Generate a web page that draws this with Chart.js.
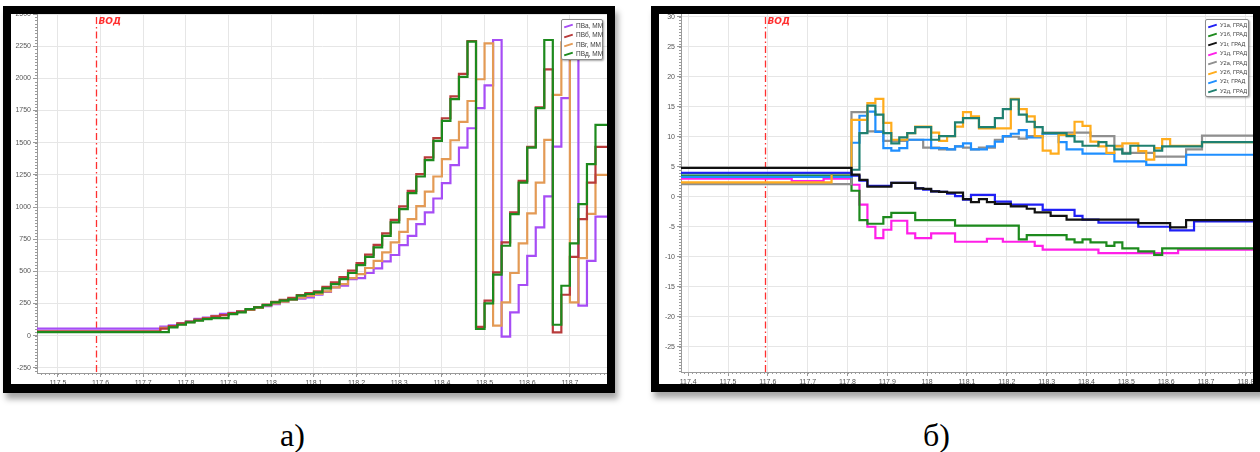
<!DOCTYPE html>
<html lang="ru">
<head>
<meta charset="utf-8">
<title>ПВ, ММ / У, ГРАД</title>
<script src="https://cdn.jsdelivr.net/npm/chart.js@4.4.1/dist/chart.umd.min.js"></script>
<style>
  html, body { margin: 0; padding: 0; background: #fff; }
  body { position: relative; width: 1260px; height: 452px; overflow: hidden; font-family: "Liberation Sans", Arial, sans-serif; }
  .frame { position: absolute; background: #000; box-shadow: 3px 6px 6px rgba(0,0,0,0.35); }
  .plot { position: absolute; background: #fff; overflow: hidden; }
  .plot canvas { position: absolute; left: 0; top: -10px; }
  .legend { position: absolute; box-sizing: border-box; background: #fff; border: 1px solid #8c8c8c; border-radius: 2px;
            box-shadow: 1px 1px 2px rgba(0,0,0,0.35); color: #3c3c3c; padding: 1px 0 0 2px; }
  .legend div { white-space: nowrap; }
  .legend i { display: inline-block; width: 9px; height: 2px; margin-right: 3px; vertical-align: middle; transform: rotate(-18deg); }
  .caption { position: absolute; top: 419px; font: 32px/32px "Liberation Serif", "Times New Roman", serif; color: #000; }
</style>
</head>
<body>
  <div class="frame" style="left:3px;top:6px;width:612px;height:387px"></div>
  <div class="plot" style="left:11px;top:14px;width:596px;height:370px"><canvas id="chartA" width="612" height="380"></canvas></div>
  <div class="legend" id="legendA" style="left:561px;top:19px;width:42px;height:41px;font-size:6.5px;line-height:9.3px"></div>

  <div class="frame" style="left:651px;top:6px;width:612px;height:386px"></div>
  <div class="plot" style="left:659px;top:14px;width:594px;height:370px"><canvas id="chartB" width="610" height="380"></canvas></div>
  <div class="legend" id="legendB" style="left:1205px;top:19px;width:44px;height:78px;font-size:5.6px;line-height:9.4px"></div>

  <div class="caption" style="left:280px">а)</div>
  <div class="caption" style="left:923px">б)</div>

<script>
// ---- а) ПВ, ММ ----
const X_A = [117.44, 117.74, 117.76, 117.78, 117.80, 117.82, 117.84, 117.86, 117.88, 117.90,
  117.92, 117.94, 117.96, 117.98, 118.00, 118.02, 118.04, 118.06, 118.08, 118.10,
  118.12, 118.14, 118.16, 118.18, 118.20, 118.22, 118.24, 118.26, 118.28, 118.30,
  118.32, 118.34, 118.36, 118.38, 118.40, 118.42, 118.44, 118.46, 118.48, 118.50,
  118.52, 118.54, 118.56, 118.58, 118.60, 118.62, 118.64, 118.66, 118.68, 118.70,
  118.72, 118.74, 118.76, 118.78, 118.80];
const PV_A = [30, 55, 70, 80, 95, 110, 130, 140, 155, 170,
  178, 188, 200, 215, 230, 245, 262, 278, 288, 298,
  318, 340, 375, 388, 440, 448, 487, 523, 577, 627,
  704, 776, 867, 958, 1066, 1186, 1325, 1462, 1612, 1768,
  1946, 2298, -8, 181, 394, 621, 841, 1082, 1470, 1846,
  2290, 233, 582, 926, 926];
const PV_B = [33, 33, 55, 75, 95, 110, 125, 135, 150, 160,
  175, 190, 205, 222, 242, 262, 278, 295, 315, 330,
  345, 380, 415, 455, 505, 565, 630, 705, 795, 900,
  1005, 1125, 1255, 1385, 1535, 1690, 1860, 2035, 2290, 68,
  272, 492, 725, 958, 1203, 1467, 1775, 2070, 26, 318,
  613, 906, 1190, 1467, 1467];
const PV_G = [30, 30, 60, 72, 90, 105, 120, 135, 150, 160,
  170, 185, 200, 215, 235, 250, 265, 280, 295, 310,
  325, 345, 375, 401, 448, 479, 526, 582, 647, 725,
  807, 906, 1007, 1120, 1237, 1372, 1519, 1661, 1824, 1993,
  2272, 78, 259, 487, 717, 950, 1190, 1522, 1871, 2280,
  259, 603, 947, 1250, 1250];
const PV_D = [28, 28, 28, 65, 85, 103, 116, 129, 137, 137,
  168, 181, 207, 220, 238, 259, 272, 282, 311, 324,
  336, 367, 401, 440, 487, 549, 613, 686, 776, 880,
  983, 1108, 1237, 1364, 1514, 1669, 1838, 2011, 2285, 52,
  251, 474, 699, 945, 1190, 1462, 1768, 2298, 85, 388,
  717, 1022, 1333, 1638, 1638];
const NAMES_A = ['ПВа, ММ', 'ПВб, ММ', 'ПВг, ММ', 'ПВд, ММ'];
const COLORS_A = ['#a64df5', '#b83b3b', '#e39a55', '#1d8a1d'];
const ORDER_A = [3, 1, 2, 0];
const X_TICKS_A = [117.5, 117.6, 117.7, 117.8, 117.9, 118.0, 118.1, 118.2, 118.3, 118.4, 118.5, 118.6, 118.7];
const Y_TICKS_A = [-250, 0, 250, 500, 750, 1000, 1250, 1500, 1750, 2000, 2250, 2500];

// ---- б) У, ГРАД ----
const X_B = [117.38, 117.66, 117.74, 117.76,
  117.81, 117.83, 117.85, 117.87, 117.89, 117.91, 117.93, 117.95, 117.97, 117.99,
  118.01, 118.03, 118.05, 118.07, 118.09, 118.11, 118.13, 118.15, 118.17, 118.19,
  118.21, 118.23, 118.25, 118.27, 118.29, 118.31, 118.33, 118.35, 118.37, 118.39,
  118.41, 118.43, 118.45, 118.47, 118.49, 118.51, 118.53, 118.55, 118.57, 118.59,
  118.61, 118.63, 118.65, 118.67, 118.69, 118.71, 118.73, 118.75, 118.77, 118.79,
  118.81, 118.83];
const U1A = [4.0, 4.0, 4.0, 4.0,
  4.0, 3.5, 2.7, 1.8, 1.8, 1.8, 2.3, 2.3, 2.3, 1.4,
  1.2, 0.9, 0.8, 0.5, 0.1, -0.5, 0.3, 0.3, 0.3, -0.8,
  -0.8, -1.3, -1.3, -1.3, -1.3, -2.2, -2.2, -2.2, -2.2, -3.2,
  -3.8, -3.8, -4.3, -4.3, -4.3, -4.3, -4.3, -5.0, -5.0, -5.0,
  -5.0, -5.6, -5.6, -5.6, -4.1, -4.1, -4.1, -4.1, -4.1, -4.1,
  -4.1, -4.1];
const U1B = [3.5, 3.5, 3.5, 3.5,
  3.5, 1.0, -3.9, -4.5, -4.5, -3.4, -2.7, -2.7, -2.7, -3.9,
  -3.9, -3.9, -3.9, -3.9, -4.8, -4.8, -4.8, -4.8, -4.8, -4.8,
  -4.8, -4.8, -7.1, -6.4, -6.4, -6.4, -6.4, -6.4, -7.1, -7.6,
  -7.1, -7.6, -7.6, -8.2, -7.6, -8.6, -8.6, -9.1, -9.1, -9.7,
  -8.6, -8.6, -8.6, -8.6, -8.6, -8.6, -8.6, -8.6, -8.6, -8.6,
  -8.6, -8.6];
const U1G = [4.8, 4.8, 4.8, 4.8,
  4.8, 3.7, 2.8, 1.7, 1.7, 1.7, 2.3, 2.3, 2.3, 1.4,
  1.3, 0.9, 0.8, 0.7, 0.7, -0.4, -0.9, -0.4, -0.9, -1.2,
  -1.2, -1.6, -1.6, -2.0, -2.6, -2.6, -3.2, -3.2, -3.8, -3.8,
  -3.8, -3.8, -3.8, -3.8, -3.8, -3.8, -3.8, -4.4, -4.4, -4.4,
  -4.4, -5.1, -5.1, -3.9, -3.9, -3.9, -3.9, -3.9, -3.9, -3.9,
  -3.9, -3.9];
const U1D = [3.0, 3.0, 2.6, 3.0,
  3.0, 2.0, -1.3, -5.0, -6.9, -5.5, -4.0, -4.0, -6.1, -6.9,
  -6.9, -6.1, -6.1, -6.1, -7.5, -7.5, -7.5, -7.5, -7.0, -7.0,
  -7.5, -7.5, -7.5, -7.5, -8.2, -8.8, -8.8, -8.8, -8.8, -8.8,
  -8.8, -8.8, -9.4, -9.4, -9.4, -9.4, -9.4, -9.4, -9.4, -9.4,
  -9.4, -9.4, -8.8, -8.8, -8.8, -8.8, -8.8, -8.8, -8.8, -8.8,
  -8.8, -8.8];
const U2A = [2.1, 2.1, 2.1, 2.1,
  2.1, 14.1, 14.1, 10.9, 10.9, 9.3, 9.3, 9.3, 9.5, 9.5,
  8.2, 8.2, 7.9, 7.9, 8.4, 8.2, 7.9, 8.2, 8.2, 9.5,
  10.0, 10.0, 9.7, 10.1, 10.1, 10.7, 10.7, 10.7, 10.7, 10.7,
  10.7, 10.1, 10.1, 10.1, 8.5, 7.3, 7.3, 7.3, 7.3, 6.7,
  6.7, 6.7, 6.7, 7.9, 7.9, 10.2, 10.2, 10.2, 10.2, 10.2,
  10.2, 10.2];
const U2B = [2.4, 2.4, 2.4, 2.4,
  3.9, 12.8, 12.8, 15.6, 16.3, 12.3, 9.5, 9.5, 10.6, 11.7,
  11.7, 10.7, 9.3, 10.1, 11.7, 14.1, 13.4, 11.4, 11.4, 11.4,
  11.4, 16.3, 14.6, 13.4, 10.1, 7.7, 7.2, 10.3, 10.3, 12.5,
  11.8, 9.2, 8.4, 7.3, 8.4, 8.9, 8.9, 7.6, 6.2, 8.1,
  9.6, 8.5, 8.5, 8.5, 8.5, 9.1, 9.1, 9.1, 9.1, 9.1,
  9.1, 9.1];
const U2G = [3.3, 3.3, 3.3, 3.3,
  3.3, 9.0, 13.5, 14.2, 10.8, 8.1, 7.7, 8.1, 9.5, 9.5,
  9.5, 8.1, 8.1, 7.9, 8.4, 8.9, 7.9, 7.9, 8.4, 9.2,
  10.1, 10.5, 11.1, 9.9, 9.9, 10.5, 10.5, 9.1, 7.9, 7.9,
  7.2, 7.2, 7.2, 7.2, 5.9, 5.9, 5.9, 5.9, 5.3, 5.3,
  5.3, 5.3, 5.3, 7.0, 7.0, 7.0, 7.0, 7.0, 7.0, 7.0,
  7.0, 7.0];
const U2D = [3.6, 3.9, 3.9, 3.9,
  3.9, 4.5, 10.6, 15.2, 13.7, 10.6, 8.9, 9.9, 10.6, 11.6,
  11.6, 9.5, 10.1, 10.1, 12.4, 13.1, 13.1, 11.6, 11.6, 13.1,
  14.6, 16.2, 13.7, 12.5, 11.6, 10.6, 10.6, 10.6, 10.1, 9.2,
  8.5, 8.5, 9.1, 8.5, 7.9, 7.2, 8.5, 8.5, 8.5, 7.7,
  8.4, 8.4, 8.4, 8.4, 8.4, 9.1, 9.1, 9.1, 9.1, 9.1,
  9.1, 9.1];
const NAMES_B = ['У1а, ГРАД', 'У1б, ГРАД', 'У1г, ГРАД', 'У1д, ГРАД', 'У2а, ГРАД', 'У2б, ГРАД', 'У2г, ГРАД', 'У2д, ГРАД'];
const COLORS_B = ['#1f1ff5', '#1d8a1d', '#111111', '#ff1fe8', '#8f8f8f', '#ffac1c', '#1f8fff', '#1f8070'];
const ORDER_B = [1, 6, 0, 7, 5, 3, 4, 2];
const X_TICKS_B = [117.4, 117.5, 117.6, 117.7, 117.8, 117.9, 118.0, 118.1, 118.2, 118.3, 118.4, 118.5, 118.6, 118.7, 118.8];
const Y_TICKS_B = [-25, -20, -15, -10, -5, 0, 5, 10, 15, 20, 25, 30];

const VOD_A = 117.59;
const VOD_B = 117.592;

Chart.defaults.font.family = '"Liberation Sans", Arial, sans-serif';
Chart.defaults.font.size = 7;
Chart.defaults.color = '#555';

const fmtComma = v => String(Math.round(v * 10) / 10).replace('.', ',');

// small ticks between the labelled ones
const minorTicks = {
  id: 'minorTicks',
  afterDraw(chart, args, opts) {
    const { ctx, chartArea: a, scales: { x, y } } = chart;
    ctx.save();
    ctx.strokeStyle = '#9a9a9a';
    ctx.lineWidth = 1;
    ctx.beginPath();
    for (let i = Math.ceil(x.min / opts.x); i * opts.x <= x.max; i++) {
      const px = Math.round(x.getPixelForValue(i * opts.x)) + 0.5;
      ctx.moveTo(px, a.bottom); ctx.lineTo(px, a.bottom + 2);
    }
    for (let i = Math.ceil(y.min / opts.y); i * opts.y <= y.max; i++) {
      const py = Math.round(y.getPixelForValue(i * opts.y)) + 0.5;
      ctx.moveTo(a.left - 2, py); ctx.lineTo(a.left, py);
    }
    ctx.stroke();
    ctx.restore();
  }
};

// red dash-dot marker "ВОД"
const vodLine = {
  id: 'vodLine',
  beforeDatasetsDraw(chart, args, opts) {
    const { ctx, chartArea: a, scales: { x } } = chart;
    const px = Math.round(x.getPixelForValue(opts.value)) + 0.5;
    ctx.save();
    ctx.strokeStyle = '#ff3030';
    ctx.lineWidth = 1.3;
    ctx.setLineDash([7, 3, 1.5, 3]);
    ctx.beginPath();
    ctx.moveTo(px, a.top + 3);
    ctx.lineTo(px, a.bottom);
    ctx.stroke();
    ctx.setLineDash([]);
    ctx.fillStyle = '#ff3030';
    ctx.font = 'italic bold 9px "DejaVu Sans", "Liberation Sans", sans-serif';
    ctx.fillText('ВОД', px + 2, a.top + 10);
    ctx.restore();
  }
};

function buildLegend(id, names, colors) {
  document.getElementById(id).innerHTML = names
    .map((n, i) => `<div><i style="background:${colors[i]}"></i>${n}</div>`).join('');
}

function stepChart(canvasId, c) {
  const datasets = c.series.map((s, i) => ({
    label: c.names[i],
    data: c.xs.map((x, j) => ({ x, y: s[j] })),
    borderColor: c.colors[i],
    borderWidth: 2.2,
    pointRadius: 0,
    stepped: 'after',
    fill: false,
    order: c.order[i]
  }));
  const grid = { color: '#e6e6e6', lineWidth: 1, tickLength: 4, tickColor: '#9a9a9a' };
  const border = { display: true, color: '#9a9a9a' };
  return new Chart(document.getElementById(canvasId), {
    type: 'line',
    data: { datasets },
    options: {
      responsive: false, animation: false, devicePixelRatio: 1,
      layout: { padding: { top: 10, right: 16, left: 0, bottom: 0 } },
      plugins: {
        legend: { display: false },
        tooltip: { enabled: false },
        minorTicks: { x: c.minorX, y: c.minorY },
        vodLine: { value: c.vod }
      },
      scales: {
        x: {
          type: 'linear', min: c.xMin, max: c.xMax,
          afterBuildTicks: s => { s.ticks = c.xTicks.map(v => ({ value: v })); },
          afterFit: s => { s.height = c.xHeight; },
          ticks: { autoSkip: false, maxRotation: 0, padding: 2, callback: fmtComma },
          grid, border
        },
        y: {
          type: 'linear', min: c.yMin, max: c.yMax,
          afterBuildTicks: s => { s.ticks = c.yTicks.map(v => ({ value: v })); },
          afterFit: s => { s.width = c.yWidth; },
          ticks: { autoSkip: false, padding: 2, callback: v => String(v) },
          grid, border
        }
      }
    },
    plugins: [minorTicks, vodLine]
  });
}

stepChart('chartA', {
  xs: X_A, series: [PV_A, PV_B, PV_G, PV_D], names: NAMES_A, colors: COLORS_A, order: ORDER_A,
  xMin: 117.451, xMax: 118.787, yMin: -290, yMax: 2500,
  xTicks: X_TICKS_A, yTicks: Y_TICKS_A, minorX: 0.01, minorY: 25,
  xHeight: 11, yWidth: 26, vod: VOD_A
});
stepChart('chartB', {
  xs: X_B, series: [U1A, U1B, U1G, U1D, U2A, U2B, U2G, U2D], names: NAMES_B, colors: COLORS_B, order: ORDER_B,
  xMin: 117.382, xMax: 118.818, yMin: -29.2, yMax: 30.45,
  xTicks: X_TICKS_B, yTicks: Y_TICKS_B, minorX: 0.01, minorY: 0.5,
  xHeight: 12, yWidth: 22, vod: VOD_B
});
buildLegend('legendA', NAMES_A, COLORS_A);
buildLegend('legendB', NAMES_B, COLORS_B);
</script>
</body>
</html>
